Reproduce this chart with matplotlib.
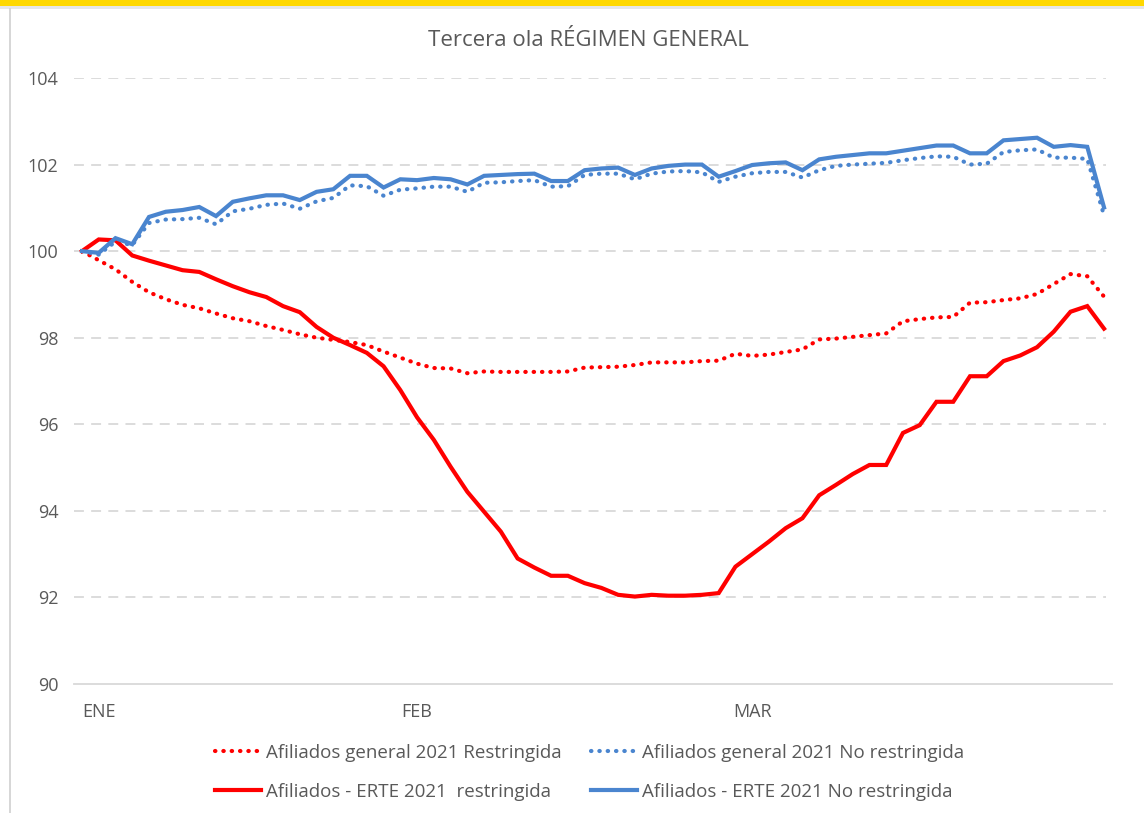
import matplotlib
matplotlib.use("Agg")
import matplotlib.pyplot as plt
from matplotlib.lines import Line2D
from matplotlib.patches import Rectangle

plt.rcParams['font.family'] = ['Open Sans', 'DejaVu Sans']

title = "Tercera ola RÉGIMEN GENERAL"
month_labels = ["ENE", "FEB", "MAR"]
month_positions = [1, 20, 40]
y_ticks = [90, 92, 94, 96, 98, 100, 102, 104]

general_restringida = [
    100.0, 99.79, 99.58, 99.29, 99.05, 98.89, 98.76, 98.68, 98.56, 98.45,
    98.38, 98.27, 98.18, 98.08, 98.0, 97.95, 97.9, 97.83, 97.68, 97.54,
    97.40, 97.30, 97.29, 97.18, 97.22, 97.21, 97.21, 97.21, 97.21, 97.22,
    97.31, 97.32, 97.33, 97.37, 97.43, 97.43, 97.43, 97.46, 97.47, 97.63,
    97.58, 97.61, 97.67, 97.73, 97.96, 97.98, 98.02, 98.06, 98.10, 98.38,
    98.43, 98.47, 98.48, 98.81, 98.82, 98.87, 98.91, 99.01, 99.24, 99.47,
    99.42, 98.95]

general_no_restringida = [
    100.0, 99.92, 100.22, 100.14, 100.65, 100.73, 100.74, 100.77, 100.62, 100.92,
    100.98, 101.07, 101.10, 100.98, 101.15, 101.23, 101.52, 101.50, 101.28, 101.42,
    101.45, 101.49, 101.49, 101.37, 101.58, 101.59, 101.62, 101.64, 101.49, 101.50,
    101.76, 101.79, 101.79, 101.66, 101.79, 101.84, 101.85, 101.82, 101.60, 101.72,
    101.80, 101.83, 101.83, 101.70, 101.87, 101.97, 102.0, 102.02, 102.04, 102.10,
    102.15, 102.19, 102.18, 102.0, 102.02, 102.29, 102.33, 102.35, 102.16, 102.16,
    102.13, 100.83]

erte_restringida = [
    100.0, 100.27, 100.25, 99.9, 99.78, 99.67, 99.56, 99.52, 99.35, 99.19,
    99.05, 98.94, 98.73, 98.59, 98.25, 98.0, 97.83, 97.65, 97.34, 96.79,
    96.16, 95.64, 95.02, 94.44, 93.98, 93.52, 92.9, 92.69, 92.5, 92.5,
    92.33, 92.22, 92.06, 92.02, 92.06, 92.04, 92.04, 92.06, 92.1, 92.71,
    93.0, 93.29, 93.6, 93.83, 94.36, 94.6, 94.85, 95.06, 95.06, 95.8,
    95.98, 96.52, 96.52, 97.11, 97.11, 97.46, 97.59, 97.78, 98.14, 98.6,
    98.73, 98.21]

erte_no_restringida = [
    100.0, 99.96, 100.30, 100.16, 100.79, 100.91, 100.95, 101.02, 100.81, 101.14,
    101.22, 101.29, 101.29, 101.18, 101.37, 101.43, 101.74, 101.74, 101.47, 101.66,
    101.64, 101.69, 101.66, 101.54, 101.74, 101.76, 101.78, 101.79, 101.62, 101.62,
    101.87, 101.91, 101.93, 101.76, 101.91, 101.97, 102.0, 102.0, 101.72, 101.85,
    101.99, 102.03, 102.05, 101.87, 102.12, 102.18, 102.22, 102.26, 102.26, 102.32,
    102.38, 102.44, 102.44, 102.26, 102.26, 102.56, 102.59, 102.62, 102.41, 102.45,
    102.41, 101.01]

labels = ["Afiliados general 2021 Restringida",
          "Afiliados - ERTE 2021  restringida",
          "Afiliados general 2021 No restringida",
          "Afiliados - ERTE 2021 No restringida"]

RED = "#FF0000"
BLUE = "#4A85CF"
TXT = "#595959"
GRID = "#D9D9D9"

W, H = 1144, 813
fig = plt.figure(figsize=(W / 100, H / 100), dpi=100)
fig.patch.set_facecolor("white")

# decorative frame
fig.add_artist(Rectangle((0, 1 - 6 / H), 1, 6 / H, transform=fig.transFigure,
                         facecolor="#FFD800", edgecolor="none"))
fig.add_artist(Rectangle((0, 1 - 9 / H), 1, 3 / H, transform=fig.transFigure,
                         facecolor="#E6E6E6", edgecolor="none"))
fig.add_artist(Line2D([9.5 / W, 9.5 / W], [0, 1 - 9 / H], transform=fig.transFigure,
                      color="#D0D0D0", lw=1.2))

left, right = 73.6 / W, 1112.4 / W
bottom, top = (H - 684) / H, (H - 78) / H
ax = fig.add_axes([left, bottom, right - left, top - bottom])

x = list(range(len(erte_restringida)))
dot = (0, (0.1, 1.9))
lw = 3.0
ax.plot(x, general_restringida, color=RED, lw=lw, linestyle=dot,
        dash_capstyle="round", zorder=3)
ax.plot(x, general_no_restringida, color=BLUE, lw=lw, linestyle=dot,
        dash_capstyle="round", zorder=3)
ax.plot(x, erte_restringida, color=RED, lw=lw, solid_joinstyle="miter", zorder=4)
ax.plot(x, erte_no_restringida, color=BLUE, lw=lw, solid_joinstyle="miter", zorder=5)

ax.set_xlim(-0.5, len(x) - 0.5)
ax.set_ylim(90, 104)
ax.set_yticks(y_ticks)
ax.set_yticklabels([str(v) for v in y_ticks])
ax.set_xticks(month_positions)
ax.set_xticklabels(month_labels)
ax.tick_params(axis="both", length=0, labelsize=13, colors=TXT)
ax.tick_params(axis="y", pad=11)
ax.tick_params(axis="x", pad=14)

for v in y_ticks[1:]:
    ax.axhline(v, xmax=0.994, color=GRID, lw=1.3, linestyle=(0, (5.5, 4)), zorder=1)

for s in ["left", "right", "top"]:
    ax.spines[s].set_visible(False)
ax.spines["bottom"].set_color(GRID)
ax.spines["bottom"].set_linewidth(1.3)

fig.text(588 / W, 1 - 40 / H, title, ha="center", va="center",
         fontsize=16, color=TXT)

handles = [
    Line2D([], [], color=RED, lw=lw, linestyle=dot, dash_capstyle="round"),
    Line2D([], [], color=RED, lw=lw),
    Line2D([], [], color=BLUE, lw=lw, linestyle=dot, dash_capstyle="round"),
    Line2D([], [], color=BLUE, lw=lw),
]
leg = fig.legend(handles, labels, ncol=2, loc="center",
                 bbox_to_anchor=(589.5 / W, 1 - 772 / H), frameon=False,
                 fontsize=13.5, handlelength=2.45, handletextpad=0.27,
                 columnspacing=1.6, labelspacing=1.12, labelcolor=TXT)

fig.savefig("out.png", dpi=100, facecolor="white")
